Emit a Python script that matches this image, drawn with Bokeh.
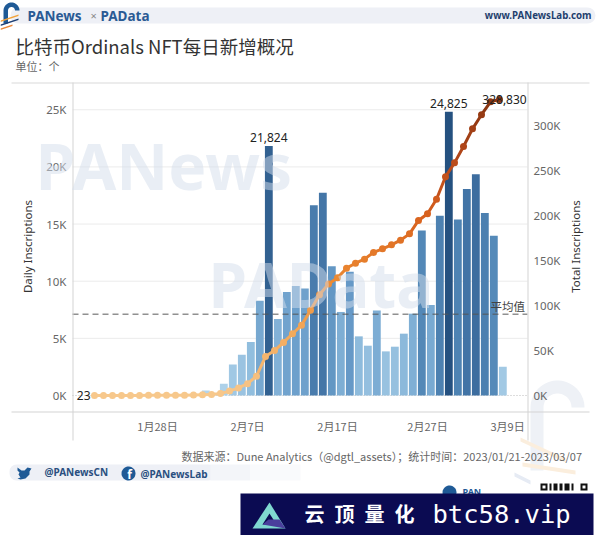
import numpy as np
from bokeh.core.properties import value
from bokeh.embed import file_html
from bokeh.models import (BoxAnnotation, ColumnDataSource, FixedTicker, Label, LinearAxis,
                          PolyAnnotation, Range1d)
from bokeh.plotting import figure
from bokeh.resources import INLINE

# ---- data ----
day_index = list(range(46))
daily_inscriptions = [23, 18, 15, 12, 30, 25, 40, 22, 35, 60, 90, 120, 440, 200, 1020, 2720, 3570, 4680,
                      8300, 21824, 6696, 9064, 9590, 9360, 16640, 17750, 11315, 7310, 10820, 5175, 4357,
                      7427, 3860, 4270, 5410, 7160, 14445, 7925, 15730, 24825, 15410, 18070, 19360,
                      15965, 13980, 2515]
total_inscriptions = [23, 41, 56, 68, 98, 123, 163, 185, 220, 280, 370, 490, 930, 1130, 2150, 4870, 8440,
                      13120, 21420, 43244, 49900, 59000, 68600, 78000, 94600, 112000, 124000, 130700,
                      141500, 147000, 151500, 159000, 163000, 167400, 172600, 179600, 194500, 202000,
                      218000, 243000, 258500, 276700, 296300, 312000, 326315, 328830]
average_daily = 7105
x_tick_days = [7, 17, 27, 37, 45.9]
x_tick_labels = ["1月28日", "2月7日", "2月17日", "2月27日", "3月9日"]
left_ticks = [0, 5000, 10000, 15000, 20000, 25000]
left_labels = ["0K", "5K", "10K", "15K", "20K", "25K"]
right_ticks = [0, 50000, 100000, 150000, 200000, 250000, 300000]
right_labels = ["0K", "50K", "100K", "150K", "200K", "250K", "300K"]
labelled_days = [19, 39]

BAR_SHIFT = 0.37
CJK = "Noto Sans CJK SC"
LATIN = "Noto Sans"
# plot-box edges in data terms
X_LEFT, X_RIGHT, Y_FLOOR = -2.444, 48.11, -1400


def ramp(v, stops, cols):
    rgb = np.array([[int(c[i:i + 2], 16) for i in (1, 3, 5)] for c in cols], dtype=float)
    ch = [np.interp(v, stops, rgb[:, k]) for k in range(3)]
    return "#%02x%02x%02x" % tuple(int(round(c)) for c in ch)


bar_cols = [ramp(v, [0, 5000, 10000, 15000, 20000, 25000],
                 ["#b5d6ec", "#8fbcdd", "#6a9dca", "#5085b5", "#3a6a9c", "#24507f"]) for v in daily_inscriptions]
line_cols = [ramp(v, [0, 60000, 130000, 200000, 270000, 329000],
                  ["#f7c88c", "#f4ae62", "#ec8a32", "#d9621e", "#b5481a", "#8a3510"]) for v in total_inscriptions]

# The frame fills the canvas so that titles and decorations around the plot box are not clipped.
p = figure(width=600, height=535, output_backend="svg", toolbar_location=None,
           x_range=Range1d(-94 / 9, 506 / 9), y_range=Range1d(-12250, 34562),
           frame_width=600, frame_height=535, min_border=0, outline_line_color=None,
           background_fill_color="white", border_fill_color="white")
p.extra_y_ranges = {"total": Range1d(-155556, 438889)}
p.xgrid.visible = False
p.ygrid.visible = False

p.xaxis.fixed_location = Y_FLOOR
p.xaxis.ticker = FixedTicker(ticks=x_tick_days)
p.xaxis.major_label_overrides = dict(zip(x_tick_days, x_tick_labels))
p.xaxis.axis_line_color = None
p.xaxis.major_tick_line_color = None
p.xaxis.minor_tick_line_color = None
p.xaxis.major_tick_out = 0
p.xaxis.major_label_text_font = CJK
p.xaxis.major_label_text_font_size = "11px"
p.xaxis.major_label_text_color = "#666666"
p.xaxis.major_label_standoff = 7

p.yaxis.fixed_location = X_LEFT
p.yaxis.ticker = FixedTicker(ticks=left_ticks)
p.yaxis.major_label_overrides = dict(zip(left_ticks, left_labels))
right_axis = LinearAxis(y_range_name="total", fixed_location=X_RIGHT, ticker=FixedTicker(ticks=right_ticks),
                        major_label_overrides=dict(zip(right_ticks, right_labels)))
p.add_layout(right_axis, "right")
for ax in (p.yaxis[0], right_axis):
    ax.axis_line_color = None
    ax.major_tick_line_color = None
    ax.minor_tick_line_color = None
    ax.major_tick_out = 0
    ax.major_label_text_font = LATIN
    ax.major_label_text_font_size = "11.5px"
    ax.major_label_text_color = "#666666"
    ax.major_label_standoff = 6


def L(text, x, y, size, color="#333333", font=CJK, align="left", style="normal", alpha=1.0, angle=0.0):
    p.add_layout(Label(x=x, y=y, text=text, x_units="canvas", y_units="canvas", angle=angle,
                       text_font=font, text_font_size=f"{size}px", text_color=color, text_align=align,
                       text_baseline="middle", text_font_style=style, text_alpha=alpha))


def B(x0, x1, y0, y1, color, alpha=1.0, radius=0):
    p.add_layout(BoxAnnotation(left=x0, right=x1, top=y0, bottom=y1, left_units="canvas", right_units="canvas",
                               top_units="canvas", bottom_units="canvas",
                               fill_color=color, fill_alpha=alpha, line_color=None, line_alpha=0,
                               border_radius=radius, editable=False))


def P(xs, ys, color, alpha=1.0, level="annotation"):
    p.add_layout(PolyAnnotation(xs=[float(v) for v in xs], ys=[float(v) for v in ys],
                                xs_units="canvas", ys_units="canvas", level=level,
                                fill_color=color, fill_alpha=alpha, line_color=None, line_alpha=0))


def arch(x0, x1, ytop, ybot, thick, color, alpha=1.0, level="annotation"):
    r = (x1 - x0) / 2
    cx = (x0 + x1) / 2
    t = np.linspace(np.pi, 0, 30)
    xs = np.r_[cx + r * np.cos(t), cx + (r - thick) * np.cos(t[::-1])]
    ys = np.r_[ytop + r - r * np.sin(t), ytop + r - (r - thick) * np.sin(t[::-1])]
    xs = np.r_[x0, xs, x0 + thick]
    ys = np.r_[ybot, ys, ybot]
    P(xs, ys, color, alpha, level)


def stripe(x0, y0, x1, y1, w, color, alpha=1.0, level="annotation"):
    P([x0, x1, x1, x0], [y0, y1, y1 + w, y0 + w], color, alpha, level)


# faint corner emblem, underneath everything
arch(530, 584, 380, 470, 13, "#eef1f6", level="underlay")
stripe(520, 437, 565, 458, 4, "#fbeedd", level="underlay")
stripe(522, 462, 575, 470, 4, "#fbeedd", level="underlay")
stripe(514, 472, 530, 480, 4, "#e6ebf4", level="underlay")

# gridlines limited to the plot box
grid = left_ticks[1:]
p.segment([X_LEFT] * len(grid), grid, [X_RIGHT] * len(grid), grid, line_color="#ebebeb", line_width=1)
p.segment([X_LEFT], [0], [X_RIGHT], [0], line_color="#bbbbbb", line_width=1, line_dash="1 2")

# bars, average, line
bars = ColumnDataSource(dict(x=[d + BAR_SHIFT for d in day_index], top=daily_inscriptions, color=bar_cols))
p.vbar(x="x", top="top", bottom=0, width=0.87, fill_color="color", line_color=None, source=bars)
p.segment([X_LEFT], [average_daily], [X_RIGHT], [average_daily], line_color="#555555", line_alpha=0.65,
          line_width=1.5, line_dash="6 4")

seg_x = [[a, b] for a, b in zip(day_index[:-1], day_index[1:])]
seg_y = [[a, b] for a, b in zip(total_inscriptions[:-1], total_inscriptions[1:])]
p.multi_line(seg_x, seg_y, line_color=line_cols[1:], line_width=3, y_range_name="total", line_cap="round")
p.scatter(day_index, total_inscriptions, size=7, fill_color=line_cols, line_color=None, y_range_name="total")

# data labels
p.text([d + BAR_SHIFT for d in labelled_days], [daily_inscriptions[d] for d in labelled_days],
       text=[f"{daily_inscriptions[d]:,}" for d in labelled_days], text_align="center", text_baseline="bottom",
       y_offset=-4, text_font=value(LATIN), text_font_size="12px", text_color="#222222")
p.text([day_index[-1]], [total_inscriptions[-1]], text=[f"{total_inscriptions[-1]:,}"], y_range_name="total",
       text_align="center", text_baseline="middle", x_offset=5, text_font=value(LATIN),
       text_font_size="12px", text_color="#222222")
p.text([day_index[0]], [total_inscriptions[0]], text=[f"{daily_inscriptions[0]}"], y_range_name="total",
       text_align="right", text_baseline="middle", x_offset=-4, text_font=value(LATIN),
       text_font_size="12px", text_color="#222222")
L("平均值", 490, 305, 11.5, "#444444")

# axis titles
L("Daily Inscriptions", 27, 246, 11.5, "#333333", LATIN, align="center", angle=float(np.pi / 2))
L("Total Inscriptions", 575, 246, 11.5, "#333333", LATIN, align="center", angle=float(np.pi / 2))

# frame lines
B(11, 589, 82, 83, "#d9d9d9")
B(11, 589, 411, 412, "#d4d4d4")
B(72, 73, 82, 440, "#d4d4d4")
B(527, 528, 82, 440, "#d4d4d4")

# watermarks
L("PANews", 35, 165, 64, "#d3deec", LATIN, style="bold", alpha=0.5)
L("PAData", 208, 283, 62, "#d3deec", LATIN, style="bold", alpha=0.5)

# header
B(10, 595, 7, 23, "#eef0f6", radius=8)
arch(3, 19, 2, 23, 4.5, "#1f5a96")
stripe(0, 20, 18, 14, 1.6, "#f2a33c")
stripe(0, 24, 18, 18, 1.6, "#1f3f74")
stripe(0, 28, 12, 24, 1.6, "#e9873a")
L("PANews", 27, 15, 13.5, "#2a5a94", LATIN, style="bold")
L("×", 90, 15, 11, "#888888", LATIN)
L("PAData", 100, 15, 13.5, "#2a5a94", LATIN, style="bold")
L("www.PANewsLab.com", 591, 15, 9.7, "#1f3f6e", LATIN, align="right", style="bold")
L("比特币Ordinals NFT每日新增概况", 15, 45, 18.5, "#333333")
L("单位\uff1a个", 15, 65, 11, "#666666")

# footer
L("数据来源\uff1aDune Analytics\uff08@dgtl_assets\uff09\uff1b统计时间\uff1a2023/01/21-2023/03/07",
  587, 455, 11, "#666666", align="right")
B(9, 215, 464, 480, "#eef0f6", radius=7)
B(210, 250, 464, 480, "#f3f5f9")
B(250, 300, 464, 480, "#f9fafc")
P([17, 21, 24, 27, 31, 29, 29, 25, 20, 17, 20, 18, 19, 17],
  [467, 470, 470, 467, 468, 471, 474, 478, 479, 478, 477, 474, 472, 470], "#1f5a96")
t = np.linspace(0, 2 * np.pi, 30)
P(128 + 7 * np.cos(t), 473 + 7 * np.sin(t), "#1f5a96")
L("f", 129, 474, 12, "white", LATIN, align="center", style="bold")
L("@PANewsCN", 44, 471, 10, "#2a4f80", LATIN, style="bold")
L("@PANewsLab", 140, 473, 10, "#2a4f80", LATIN, style="bold")

# clipped logo and QR above banner
P(449 + 7 * np.cos(t), 492 + 7 * np.sin(t), "#1f5a96")
L("PAN", 462, 491, 9, "#1f5a96", LATIN, style="bold")
for qx, qw in ((540, 7), (549, 2), (553, 4), (559, 3), (564, 5), (571, 2), (580, 7)):
    B(qx, qx + qw, 483, 490, "#111111")
B(542, 545, 485, 488, "#ffffff")
B(582, 585, 485, 488, "#ffffff")

# banner
B(240, 593, 493, 535, "#0b0b52")
P([269, 285, 252], [502, 528, 528], "#7fd8d0")
P([269, 276, 262], [513, 524, 524], "#0b0b52")
P([262, 285, 279, 268], [524, 528, 519, 519], "#4a3f9c")
L("云\u2002顶\u2002量\u2002化", 304, 513, 20, "white", CJK, style="bold")
L("btc58.vip", 432, 513, 25.5, "white", "DejaVu Sans Mono")

open("out.html", "w").write(file_html(p, INLINE))
